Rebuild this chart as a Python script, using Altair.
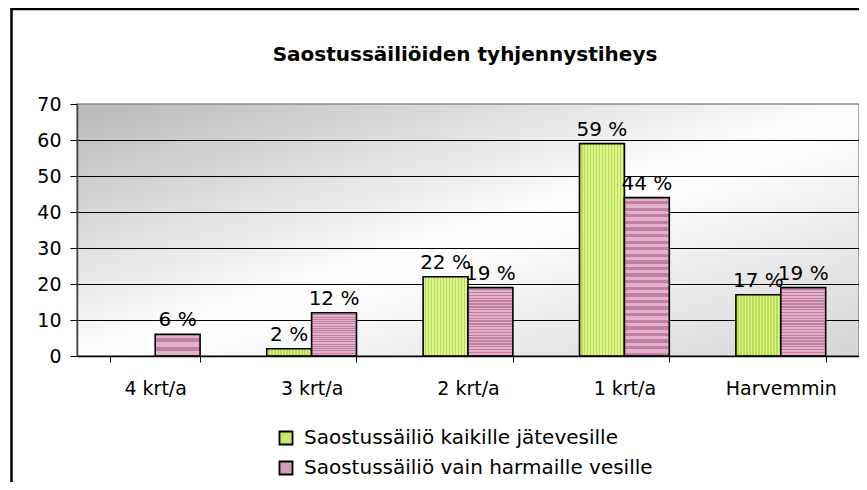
import altair as alt
import pandas as pd

# ---- data ----
categories = ["4 krt/a", "3 krt/a", "2 krt/a", "1 krt/a", "Harvemmin"]
series_names = ["Saostussäiliö kaikille jätevesille", "Saostussäiliö vain harmaille vesille"]
green_values = [None, 2, 22, 59, 17]
pink_values = [6, 12, 19, 44, 19]
y_ticks = [0, 10, 20, 30, 40, 50, 60, 70]
grid_values = [10, 20, 30, 40, 50, 60]
title_text = "Saostussäiliöiden tyhjennystiheys"

rows = []
for c, g, p in zip(categories, green_values, pink_values):
    if g is not None:
        rows.append({"cat": c, "series": series_names[0], "value": g})
    if p is not None:
        rows.append({"cat": c, "series": series_names[1], "value": p})
df = pd.DataFrame(rows)
df["label"] = df["value"].astype(int).astype(str) + " %"

PW, PH = 782, 252
FONT = "DejaVu Sans"


def stripes(c1, c2, n, vertical):
    stops = []
    for i in range(n):
        a, m, b = i / n, (i + 0.5) / n, (i + 1) / n
        stops += [
            {"color": c1, "offset": a}, {"color": c1, "offset": m},
            {"color": c2, "offset": m}, {"color": c2, "offset": b},
        ]
    if vertical:
        return {"gradient": "linear", "x1": 0, "y1": 0, "x2": 1, "y2": 0, "stops": stops}
    return {"gradient": "linear", "x1": 0, "y1": 0, "x2": 0, "y2": 1, "stops": stops}


green_grad = stripes("#dcf48e", "#b9dc50", 15, True)
pink_grad = stripes("#e2b2cb", "#c27fa3", 24, False)
bg_grad = {
    "gradient": "linear", "x1": 0, "y1": 0, "x2": 1, "y2": 1,
    "stops": [
        {"color": "#b8b8b8", "offset": 0},
        {"color": "#ffffff", "offset": 0.52},
        {"color": "#d4d4d4", "offset": 1},
    ],
}

one = pd.DataFrame({"k": [0]})
yscale = alt.Scale(domain=[0, 70], nice=False, zero=True)
xscale = alt.Scale(domain=categories, paddingInner=0.426, paddingOuter=0.213)
xoff = alt.XOffset("series:N", scale=alt.Scale(domain=series_names, paddingInner=0, paddingOuter=0))

x_axis = alt.Axis(
    title=None, labelAngle=0, tickBand="extent", tickSize=6, tickColor="black",
    domainColor="black", domainWidth=1.5, labelFont=FONT, labelFontSize=19,
    labelColor="black", labelPadding=17, zindex=1,
)
y_axis = alt.Axis(
    title=None, values=y_ticks, grid=False, tickSize=7, tickColor="black",
    domainColor="#444444", domainWidth=1.5, labelFont=FONT, labelFontSize=19,
    labelColor="black", labelPadding=9, zindex=1,
)

background = alt.Chart(one).mark_rect(
    fill=bg_grad, stroke="#8c8c8c", strokeWidth=1.5
).encode(x=alt.value(0), x2=alt.value("width"), y=alt.value(0), y2=alt.value("height"))

grid = alt.Chart(pd.DataFrame({"value": grid_values})).mark_rule(
    color="black", strokeWidth=1, yOffset=0.5
).encode(y=alt.Y("value:Q", scale=yscale, axis=y_axis))

bars_legend = alt.Chart(df).mark_bar().encode(
    x=alt.X("cat:N", sort=categories, scale=xscale, axis=x_axis),
    xOffset=xoff,
    y=alt.Y("value:Q", scale=yscale, axis=y_axis),
    color=alt.Color(
        "series:N",
        scale=alt.Scale(domain=series_names, range=["#cbe86e", "#d39cba"]),
        legend=alt.Legend(
            title=None, orient="none", legendX=199, legendY=324, direction="vertical",
            symbolType="square", symbolSize=170, symbolStrokeColor="black",
            symbolStrokeWidth=1.8, labelFont=FONT, labelFontSize=20,
            labelColor="black", labelOffset=8, rowPadding=8, padding=0,
            labelLimit=600,
        ),
    ),
)

bars_striped = alt.Chart(df).mark_bar(stroke="black", strokeWidth=1.6).encode(
    x=alt.X("cat:N", sort=categories, scale=xscale, axis=x_axis),
    xOffset=xoff,
    y=alt.Y("value:Q", scale=yscale, axis=y_axis),
    fill=alt.condition(
        f"datum.series == '{series_names[0]}'", alt.value(green_grad), alt.value(pink_grad)
    ),
)

labels = alt.Chart(df).mark_text(
    font=FONT, fontSize=20, color="black", baseline="alphabetic", dy=-8, align="center"
).encode(
    x=alt.X("cat:N", sort=categories, scale=xscale, axis=x_axis),
    xOffset=xoff,
    y=alt.Y("value:Q", scale=yscale, axis=y_axis),
    text="label:N",
)

title = alt.Chart(one).mark_text(
    text=title_text, font=FONT, fontSize=20, fontWeight="bold", color="black",
    align="center", baseline="middle",
).encode(x=alt.value(PW / 2 - 3), y=alt.value(-49))

frame = alt.Chart(one).mark_rect(
    fill="transparent", stroke="black", strokeWidth=2.5
).encode(x=alt.value(-65.5), x2=alt.value(1200), y=alt.value(-95), y2=alt.value(1200))

chart = alt.layer(background, grid, bars_legend, bars_striped, labels, title, frame).properties(
    width=PW, height=PH,
    autosize=alt.AutoSizeParams(type="none"),
    padding={"left": 69, "top": 96, "right": 0, "bottom": 126},
    background="white",
).configure_view(strokeWidth=0)

chart.save("out.html", embed_options={"renderer": "svg", "actions": False})
